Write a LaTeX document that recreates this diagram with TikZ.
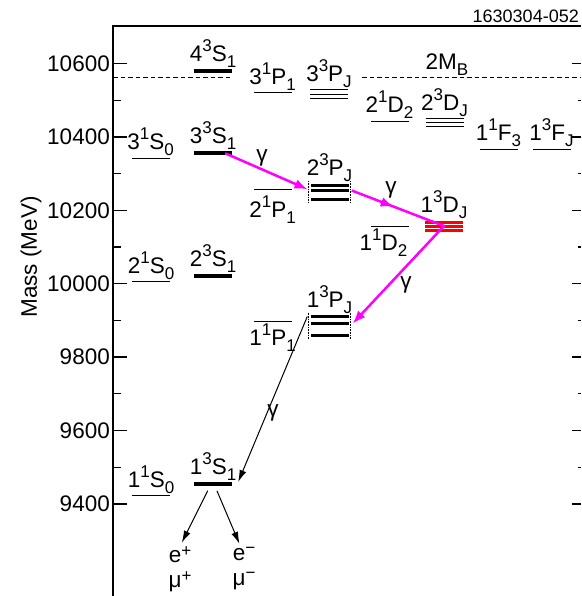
\documentclass[tikz,border=0pt]{standalone}
\usepackage{fontspec}
\setmainfont{Liberation Sans}
\usetikzlibrary{positioning, arrows.meta, decorations.markings}

\definecolor{gammamag}{RGB}{255,0,255}
\definecolor{dred}{RGB}{255,0,0}

\newcommand{\bigf}{\fontsize{22.5}{25}\selectfont}
\newcommand{\smf}{\fontsize{17}{17}\selectfont}
% level label: n ^{2S+1} L _J
\newcommand{\lev}[4]{#1\raisebox{10pt}{\smf #2}#3\raisebox{-6pt}{\smf #4}}

\begin{document}
\begin{tikzpicture}[
    x=1pt, y=-1pt,
    every node/.style={font=\bigf, inner sep=0pt},
    lvl/.style={rectangle, fill=black, minimum width=38pt, minimum height=1.5pt},
    tlvl/.style={lvl, minimum height=4pt},
    mlvl/.style={lvl, minimum height=3pt},
    flvl/.style={lvl, minimum height=1pt},
    rlvl/.style={lvl, fill=dred, minimum height=3pt},
    axis/.style={line width=1.3pt},
    thr/.style={line width=0.8pt, dash pattern=on 4.5pt off 3pt},
    ends/.style={densely dotted, line width=0.6pt},
    garrow/.style={gammamag, line width=2.5pt, -{Latex[length=13pt,width=10pt]}},
    barrow/.style={line width=1pt, -{Latex[length=12pt,width=7pt]}}
]
\useasboundingbox (0,0) rectangle (581,596);

% frame and ticks
\draw[axis] (113,596) -- (113,26) -- (581,26);
\foreach \m [evaluate=\m as \yy using {63.5+(10600-\m)*0.367}] in {9400,9600,...,10600} {
    \draw[axis] (113,\yy) -- ++(14,0);
    \draw[axis] (581,\yy) -- ++(-9,0);
    \node[anchor=east] (t\m) at (110,\yy) {\m};
}
\foreach \m [evaluate=\m as \yy using {63.5+(10600-\m)*0.367}] in {9500,9700,...,10500} {
    \draw[axis] (113,\yy) -- ++(8,0);
    \draw[axis] (581,\yy) -- ++(-3,0);
}
\node[rotate=90] (ylab) at (31,257) {Mass (MeV)};
\node[anchor=base east, font=\fontsize{18}{20}\selectfont] (fig) at (579,22.5) {1630304-052};

% BB threshold
\draw[thr] (113,77.5) -- (233,77.5);
\draw[thr] (362,77.5) -- (581,77.5);
\node[anchor=base] (bb) at (447,70) {2M\raisebox{-6pt}{\smf B}};

% levels
\node[tlvl] (n4s3) at (213,70.7) {};
\node[lvl]  (n3p1) at (272.5,92.7) {};
\foreach \yy/\k in {90/a,94.3/b,99/c}
    \node[flvl] (n3pj\k) at (329,\yy) {};
\node[lvl]  (n2d1) at (389.5,121.7) {};
\foreach \yy/\k in {118.3/a,122.7/b,127/c}
    \node[flvl] (n2dj\k) at (444.5,\yy) {};
\node[lvl]  (n1f1) at (498.5,149.3) {};
\node[lvl]  (n1f3) at (551.5,149.3) {};
\node[lvl]  (n3s1) at (150.5,158.3) {};
\node[tlvl] (n3s3) at (213,153.3) {};
\foreach \yy/\k in {185/a,190.5/b,199/c}
    \node[mlvl] (n2pj\k) at (329.5,\yy) {};
\node[lvl]  (n2p1) at (272.5,189.5) {};
\foreach \yy/\k in {222/a,226/b,230/c}
    \node[rlvl] (n1dj\k) at (444,\yy) {};
\node[lvl]  (n1d1) at (389.5,226.7) {};
\node[lvl]  (n2s1) at (151,281.7) {};
\node[tlvl] (n2s3) at (213,276) {};
\foreach \yy/\k in {316.5/a,323.5/b,335.5/c}
    \node[mlvl] (n1pj\k) at (329.5,\yy) {};
\node[lvl]  (n1p1) at (272.5,321.7) {};
\node[lvl]  (n1s1) at (151,495.7) {};
\node[tlvl] (n1s3) at (213,484) {};

% dotted ends of the P triplets
\draw[ends] ([shift={(-2pt,4pt)}]n2pja.west) -- ([shift={(-2pt,-4pt)}]n2pjc.west);
\draw[ends] ([shift={(2pt,4pt)}]n2pja.east) -- ([shift={(2pt,-4pt)}]n2pjc.east);
\draw[ends] ([shift={(-2pt,4pt)}]n1pja.west) -- ([shift={(-2pt,-4pt)}]n1pjc.west);
\draw[ends] ([shift={(2pt,4pt)}]n1pja.east) -- ([shift={(2pt,-4pt)}]n1pjc.east);

% labels
\node[above=1pt of n4s3] (l4s3) {\lev{4}{3}{S}{1}};
\node[above=1pt of n3p1] (l3p1) {\lev{3}{1}{P}{1}};
\node[above=1pt of n3pja] (l3pj) {\lev{3}{3}{P}{J}};
\node[above=2pt of n2d1] (l2d1) {\lev{2}{1}{D}{2}};
\node[above=1pt of n2dja] (l2dj) {\lev{2}{3}{D}{J}};
\node[above=1pt of n1f1] (l1f1) {\lev{1}{1}{F}{3}};
\node[above=1pt of n1f3] (l1f3) {\lev{1}{3}{F}{J}};
\node[above=1pt of n3s1] (l3s1) {\lev{3}{1}{S}{0}};
\node[above=1pt of n3s3] (l3s3) {\lev{3}{3}{S}{1}};
\node[above=1pt of n2pja] (l2pj) {\lev{2}{3}{P}{J}};
\node[below=5pt of n2p1] (l2p1) {\lev{2}{1}{P}{1}};
\node[above=1pt of n1dja] (l1dj) {\lev{1}{3}{D}{J}};
\node[below=1pt of n1d1, xshift=-6pt] (l1d1) {\lev{1}{1}{D}{2}};
\node[above=1pt of n2s1] (l2s1) {\lev{2}{1}{S}{0}};
\node[above=1pt of n2s3] (l2s3) {\lev{2}{3}{S}{1}};
\node[above=1pt of n1pja] (l1pj) {\lev{1}{3}{P}{J}};
\node[below=1pt of n1p1] (l1p1) {\lev{1}{1}{P}{1}};
\node[above=1pt of n1s1] (l1s1) {\lev{1}{1}{S}{0}};
\node[above=1pt of n1s3] (l1s3) {\lev{1}{3}{S}{1}};

% decay products
\node[align=center] (ep) at (180,569) {e\raisebox{6pt}{\smf +}\\μ\raisebox{6pt}{\smf +}};
\node[align=center] (em) at (244,569) {e\raisebox{7pt}{\smf −}\\μ\raisebox{7pt}{\smf −}};

% radiative transitions
\draw[garrow, shorten >=3pt] ([xshift=-7pt]n3s3.east) -- (n2pjb.west);
\draw[garrow, postaction={decorate},
      decoration={markings, mark=at position 45pt with {\arrow{Latex[length=13pt,width=10pt]}}}]
      ([xshift=3pt]n2pjb.east) -- (n1djb.center) -- ([xshift=4pt]n1pjb.east);
\draw[barrow] ([xshift=-3pt]n1pja.west) -- ([shift={(6pt,2pt)}]n1s3.east);
\draw[barrow, shorten <=5pt, shorten >=4pt] ([xshift=-3pt]n1s3.south) -- (ep.north);
\draw[barrow, shorten <=5pt, shorten >=4pt] ([xshift=2pt]n1s3.south) -- ([xshift=-3pt]em.north);

\node (g1) at (262,158) {γ};
\node (g2) at (391,190) {γ};
\node (g3) at (406,285) {γ};
\node (g4) at (273,413) {γ};

\end{tikzpicture}
\end{document}
